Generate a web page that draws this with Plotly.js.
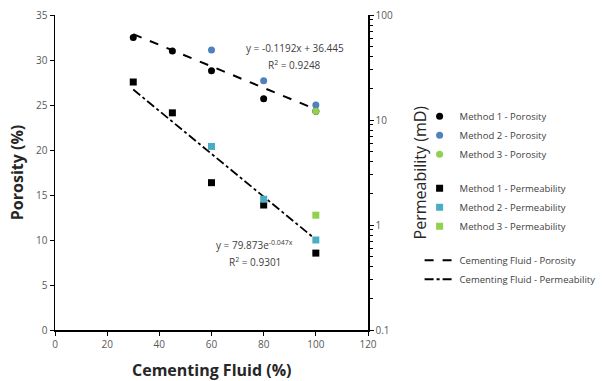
<!DOCTYPE html>
<html><head><meta charset="utf-8">
<script src="https://cdn.plot.ly/plotly-3.0.1.min.js"></script>
<style>html,body{margin:0;padding:0;background:#fff}#c{width:602px;height:381px}</style>
</head><body><div id="c"></div>
<script>
// Data
const m1PorX = [30, 45, 60, 80, 100];
const m1PorY = [32.5, 31.0, 28.8, 25.7, 24.3];
const m2PorX = [60, 80, 100];
const m2PorY = [31.1, 27.7, 25.0];
const m3PorX = [100];
const m3PorY = [24.3];
const m1PermX = [30, 45, 60, 80, 100];
const m1PermY = [23.0, 11.7, 2.53, 1.55, 0.54];
const m2PermX = [60, 80, 100];
const m2PermY = [5.6, 1.76, 0.72];
const m3PermX = [100];
const m3PermY = [1.24];
const trendPorX = [30, 100];
const trendPorY = [32.87, 24.52];
const trendPermX = [30, 100];
const trendPermY = [19.5, 0.727];
const xTicks = [0, 20, 40, 60, 80, 100, 120];
const yTicks = [0, 5, 10, 15, 20, 25, 30, 35];
const y2Ticks = [0.1, 1, 10, 100];
const y2TickText = ['0.1', '1', '10', '100'];

const FONT = 'Open Sans, Liberation Sans, sans-serif';
const blue = '#4F81BD', green = '#92D050', teal = '#4BACC6';

const lines = [
  {x: trendPorX, y: trendPorY, name: 'Cementing Fluid - Porosity', mode: 'lines', legendgroup: 'c', legendrank: 7,
   line: {color: '#000', width: 2, dash: 'dash'}},
  {x: trendPermX, y: trendPermY, name: 'Cementing Fluid - Permeability', mode: 'lines', yaxis: 'y2', legendgroup: 'c', legendrank: 8,
   line: {color: '#000', width: 1.8, dash: 'dashdot'}}
];
const points = [
  {x: m1PorX, y: m1PorY, name: 'Method 1 - Porosity', mode: 'markers', legendgroup: 'a', legendrank: 1,
   marker: {symbol: 'circle', size: 7, color: '#000'}},
  {x: m2PorX, y: m2PorY, name: 'Method 2 - Porosity', mode: 'markers', legendgroup: 'a', legendrank: 2,
   marker: {symbol: 'circle', size: 7, color: blue}},
  {x: m3PorX, y: m3PorY, name: 'Method 3 - Porosity', mode: 'markers', legendgroup: 'a', legendrank: 3,
   marker: {symbol: 'circle', size: 7, color: green}},
  {x: m1PermX, y: m1PermY, name: 'Method 1 - Permeability', mode: 'markers', yaxis: 'y2', legendgroup: 'b', legendrank: 4,
   marker: {symbol: 'square', size: 7, color: '#000'}},
  {x: m2PermX, y: m2PermY, name: 'Method 2 - Permeability', mode: 'markers', yaxis: 'y2', legendgroup: 'b', legendrank: 5,
   marker: {symbol: 'square', size: 7, color: teal}},
  {x: m3PermX, y: m3PermY, name: 'Method 3 - Permeability', mode: 'markers', yaxis: 'y2', legendgroup: 'b', legendrank: 6,
   marker: {symbol: 'square', size: 7, color: green}}
];

const layout = {
  width: 602, height: 381,
  margin: {l: 55, r: 234, t: 15, b: 51},
  paper_bgcolor: '#fff', plot_bgcolor: '#fff',
  font: {family: FONT, color: '#595959', size: 10},
  showlegend: true,
  legend: {xref: 'container', yref: 'container', x: 0.697, xanchor: 'left', y: 0.733, yanchor: 'top',
    traceorder: 'grouped', tracegroupgap: 15, font: {size: 9.5, color: '#404040', family: FONT}, itemwidth: 30,
    bgcolor: 'rgba(0,0,0,0)'},
  xaxis: {range: [0, 120], tickvals: xTicks, showgrid: false, zeroline: false, automargin: false,
    showline: true, linecolor: '#000', linewidth: 1.5, ticks: 'outside', ticklen: 4, tickcolor: '#000',
    tickfont: {size: 10, color: '#595959'}},
  yaxis: {range: [0, 35], tickvals: yTicks, showgrid: false, zeroline: false, automargin: false,
    showline: true, linecolor: '#000', linewidth: 1.5, ticks: 'outside', ticklen: 4, tickcolor: '#000',
    tickfont: {size: 10, color: '#595959'},
    title: {text: '<b>Porosity (%)</b>', font: {size: 16, color: '#262626'}, standoff: 8}},
  yaxis2: {type: 'log', range: [-1, 2], overlaying: 'y', side: 'right', showgrid: false, zeroline: false, automargin: false,
    tickvals: y2Ticks, ticktext: y2TickText,
    showline: true, linecolor: '#000', linewidth: 1.5, ticks: 'outside', ticklen: 4, tickcolor: '#000',
    tickfont: {size: 10, color: '#595959'},
    minor: {ticks: 'outside', ticklen: 3, tickcolor: '#000', dtick: 'D1', showgrid: false}},
  annotations: [
    {xref: 'paper', yref: 'paper', x: 0.5, y: -0.127, yanchor: 'middle', showarrow: false,
     text: '<b>Cementing Fluid (%)</b>', font: {size: 16, color: '#262626'}},
    {xref: 'paper', yref: 'paper', x: 1.166, y: 0.5, xanchor: 'center', yanchor: 'middle', textangle: -90,
     showarrow: false, text: 'Permeability (mD)', font: {size: 16, color: '#262626'}},
    {xref: 'x', yref: 'y', x: 92, y: 31.3, text: 'y = -0.1192x + 36.445', showarrow: false,
     font: {size: 10, color: '#404040'}},
    {xref: 'x', yref: 'y', x: 92, y: 29.5, text: 'R<sup>2</sup> = 0.9248', showarrow: false,
     font: {size: 10, color: '#404040'}},
    {xref: 'x', yref: 'y', x: 76.5, y: 9.45, text: 'y = 79.873e<sup>-0.047x</sup>', showarrow: false,
     font: {size: 10, color: '#404040'}},
    {xref: 'x', yref: 'y', x: 76.5, y: 7.6, text: 'R<sup>2</sup> = 0.9301', showarrow: false,
     font: {size: 10, color: '#404040'}}
  ]
};
Plotly.newPlot('c', lines.concat(points), layout, {displayModeBar: false, staticPlot: true});
</script></body></html>
